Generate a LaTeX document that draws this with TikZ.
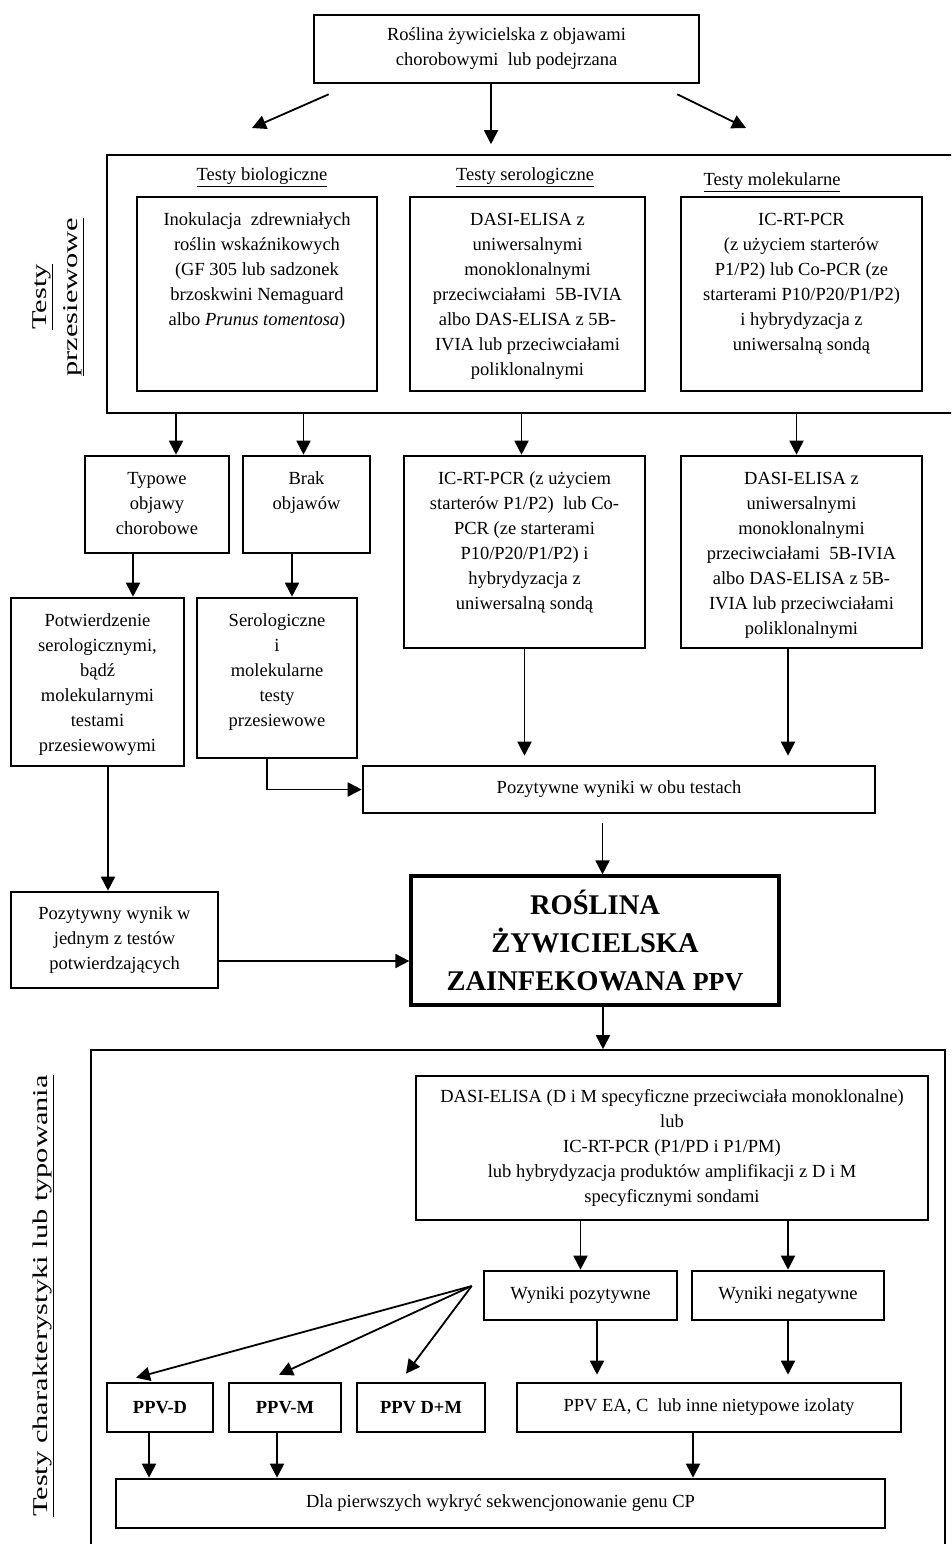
\documentclass[tikz,border=0pt]{standalone}
\usepackage{fontspec}
\setmainfont{Liberation Serif}
\usetikzlibrary{arrows.meta}

\newcommand{\cell}[3]{\parbox[c][\dimexpr#2-22pt\relax][t]{\dimexpr#1-10pt\relax}{\centering\strut#3}}
\newcommand{\sidetext}[1]{\scalebox{1.45}[1]{\underline{#1}}}

\begin{document}
\begin{tikzpicture}[x=1pt,y=-1pt,
  every node/.style={font=\fontsize{18.5}{25}\selectfont},
  box/.style={draw,line width=2.6pt,align=center,inner sep=0pt},
  tall/.style={draw,line width=2.6pt,inner xsep=5pt,inner ysep=11pt},
  frame/.style={draw,line width=1.6pt,inner sep=0pt},
  arr/.style={->,line width=1.8pt},
  >={Triangle[length=14pt,width=14pt]}]

\useasboundingbox (0,0) rectangle (951,1544);
\clip (0,0) rectangle (951,1544);

\node[frame,minimum width=858pt,minimum height=258pt] (screen) at (536,284) {};
\node[frame,minimum width=854pt,minimum height=510pt] (typing) at (518,1305) {};

\node[rotate=90,align=center,font=\fontsize{21}{31}\selectfont] (sidescreen) at (58,297) {\sidetext{Testy}\\\sidetext{przesiewowe}};
\node[rotate=90,font=\fontsize{21}{31}\selectfont] (sidetyping) at (43,1296) {\sidetext{Testy charakterystyki lub typowania}};

\node[box,minimum width=385pt,minimum height=68pt] (top) at (506.5,49) {Roślina żywicielska z objawami\\chorobowymi\ \ lub podejrzana};

\coordinate (bioarr) at (252,128);
\coordinate (molarr) at (746,128);

\node (hbio) at (262,177) {\underline{Testy biologiczne}};
\node (hsero) at (525,177) {\underline{Testy serologiczne}};
\node (hmol) at (772,182) {\underline{Testy molekularne}};

\node[tall] (bio) at (257,294) {\cell{240pt}{194pt}{Inokulacja\ \ zdrewniałych\\roślin wskaźnikowych\\(GF 305 lub sadzonek\\brzoskwini Nemaguard\\albo \textit{Prunus tomentosa})}};
\node[tall] (sero) at (527.5,294) {\cell{235pt}{194pt}{DASI-ELISA z\\uniwersalnymi\\monoklonalnymi\\przeciwciałami\ \ 5B-IVIA\\albo DAS-ELISA z 5B-\\IVIA lub przeciwciałami\\poliklonalnymi}};
\node[tall] (mol) at (801.5,294) {\cell{241pt}{194pt}{IC-RT-PCR\\(z użyciem starterów\\P1/P2) lub Co-PCR (ze\\starterami P10/P20/P1/P2)\\i hybrydyzacja z\\uniwersalną sondą}};

\node[tall] (typ) at (157,504.5) {\cell{144pt}{97pt}{Typowe\\objawy\\chorobowe}};
\node[tall] (brak) at (306.5,504.5) {\cell{127pt}{97pt}{Brak\\objawów}};
\node[tall] (ic) at (524.5,552) {\cell{241pt}{192pt}{IC-RT-PCR (z użyciem\\starterów P1/P2)\ \ lub Co-\\PCR (ze starterami\\P10/P20/P1/P2) i\\hybrydyzacja z\\uniwersalną sondą}};
\node[tall] (dasi) at (801.5,552) {\cell{241pt}{192pt}{DASI-ELISA z\\uniwersalnymi\\monoklonalnymi\\przeciwciałami\ \ 5B-IVIA\\albo DAS-ELISA z 5B-\\IVIA lub przeciwciałami\\poliklonalnymi}};

\node[tall] (potw) at (97.5,682) {\cell{173pt}{168pt}{Potwierdzenie\\serologicznymi,\\bądź\\molekularnymi\\testami\\przesiewowymi}};
\node[tall] (serol2) at (277,678) {\cell{160pt}{160pt}{Serologiczne\\i\\molekularne\\testy\\przesiewowe}};

\node[box,minimum width=512pt,minimum height=47pt] (pozyt) at (619,789.5) {Pozytywne wyniki w obu testach};
\node[box,minimum width=207pt,minimum height=96pt] (pozw) at (114.5,940) {Pozytywny wynik w\\jednym z testów\\potwierdzających};
\node[box,line width=3.2pt,minimum width=368pt,minimum height=129pt,font=\fontsize{28.5}{38}\selectfont\bfseries] (rosl) at (595,940.5) {ROŚLINA\\ŻYWICIELSKA\\ZAINFEKOWANA {\fontsize{26}{38}\selectfont PPV}};

\draw[arr] ([xshift=16pt,yshift=-10pt]top.south west) -- (bioarr);
\draw[arr,shorten >=10pt] ([xshift=-15.5pt]top.south) -- ([xshift=-15.5pt]top.south |- screen.north);
\draw[arr] ([xshift=-23pt,yshift=-10pt]top.south east) -- (molarr);

\draw[arr] ([xshift=19pt]typ.north |- screen.south) -- ([xshift=19pt]typ.north);
\draw[arr] ([xshift=-3pt]brak.north |- screen.south) -- ([xshift=-3pt]brak.north);
\draw[arr] ([xshift=-3pt]ic.north |- screen.south) -- ([xshift=-3pt]ic.north);
\draw[arr] ([xshift=-5pt]dasi.north |- screen.south) -- ([xshift=-5pt]dasi.north);

\draw[arr] ([xshift=-24pt]typ.south) -- ([xshift=-24pt]typ.south |- potw.north);
\draw[arr] ([xshift=-14.5pt]brak.south) -- ([xshift=-14.5pt]brak.south |- serol2.north);
\draw[arr,shorten >=9pt] (ic.south) -- (ic.south |- pozyt.north);
\draw[arr,shorten >=9pt] ([xshift=-13.5pt]dasi.south) -- ([xshift=-13.5pt]dasi.south |- pozyt.north);
\draw[arr] ([xshift=-10pt]serol2.south) |- (pozyt.west);
\draw[arr] ([xshift=10.5pt]potw.south) -- ([xshift=10.5pt]potw.south |- pozw.north);
\draw[arr,shorten <=9pt] ([xshift=7.5pt]rosl.north |- pozyt.south) -- ([xshift=7.5pt]rosl.north);
\draw[arr] ([yshift=-21pt]pozw.east) -- ([yshift=-21pt]pozw.east -| rosl.west);
\draw[arr] ([xshift=8pt]rosl.south) -- ([xshift=8pt]rosl.south |- typing.north);

%%%%%%%%%%%%%%%

\node[box,minimum width=512pt,minimum height=144pt] (dasi2) at (672,1148) {DASI-ELISA (D i M specyficzne przeciwciała monoklonalne)\\lub\\IC-RT-PCR (P1/PD i P1/PM)\\lub hybrydyzacja produktów amplifikacji z D i M\\specyficznymi sondami};

\node[box,minimum width=193pt,minimum height=49pt] (wp) at (580.5,1295.5) {Wyniki pozytywne};
\node[box,minimum width=192pt,minimum height=49pt] (wn) at (788,1295.5) {Wyniki negatywne};

\node[box,minimum width=106pt,minimum height=49pt,font=\fontsize{18.5}{25}\selectfont\bfseries] (ppvd) at (160,1407.5) {PPV-D};
\node[box,minimum width=112pt,minimum height=49pt,font=\fontsize{18.5}{25}\selectfont\bfseries] (ppvm) at (285,1407.5) {PPV-M};
\node[box,minimum width=128pt,minimum height=49pt,font=\fontsize{18.5}{25}\selectfont\bfseries] (dm) at (421,1407.5) {PPV D+M};
\node[box,minimum width=384pt,minimum height=49pt] (ea) at (709,1407.5) {PPV EA, C\ \ lub inne nietypowe izolaty};

\node[box,minimum width=769pt,minimum height=49pt] (cp) at (500.5,1503.5) {Dla pierwszych wykryć sekwencjonowanie genu CP};

\draw[arr] (wp.north |- dasi2.south) -- (wp.north);
\draw[arr] (wn.north |- dasi2.south) -- (wn.north);

\coordinate (fan) at ([xshift=-11pt,yshift=9.5pt]wp.west);
\draw[arr] (fan) -- ([xshift=-24pt,yshift=4pt]ppvd.north);
\draw[arr] (fan) -- ([xshift=-6pt,yshift=7pt]ppvm.north);
\draw[arr] (fan) -- ([xshift=-15pt,yshift=8pt]dm.north);

\draw[arr,shorten >=7pt] ([xshift=16.5pt]wp.south) -- ([xshift=16.5pt]wp.south |- ea.north);
\draw[arr,shorten >=7pt] (wn.south) -- (wn.south |- ea.north);

\draw[arr] ([xshift=-11pt]ppvd.south) -- ([xshift=-11pt]ppvd.south |- cp.north);
\draw[arr] ([xshift=-8pt]ppvm.south) -- ([xshift=-8pt]ppvm.south |- cp.north);
\draw[arr] ([xshift=-16pt]ea.south) -- ([xshift=-16pt]ea.south |- cp.north);

\end{tikzpicture}
\end{document}
